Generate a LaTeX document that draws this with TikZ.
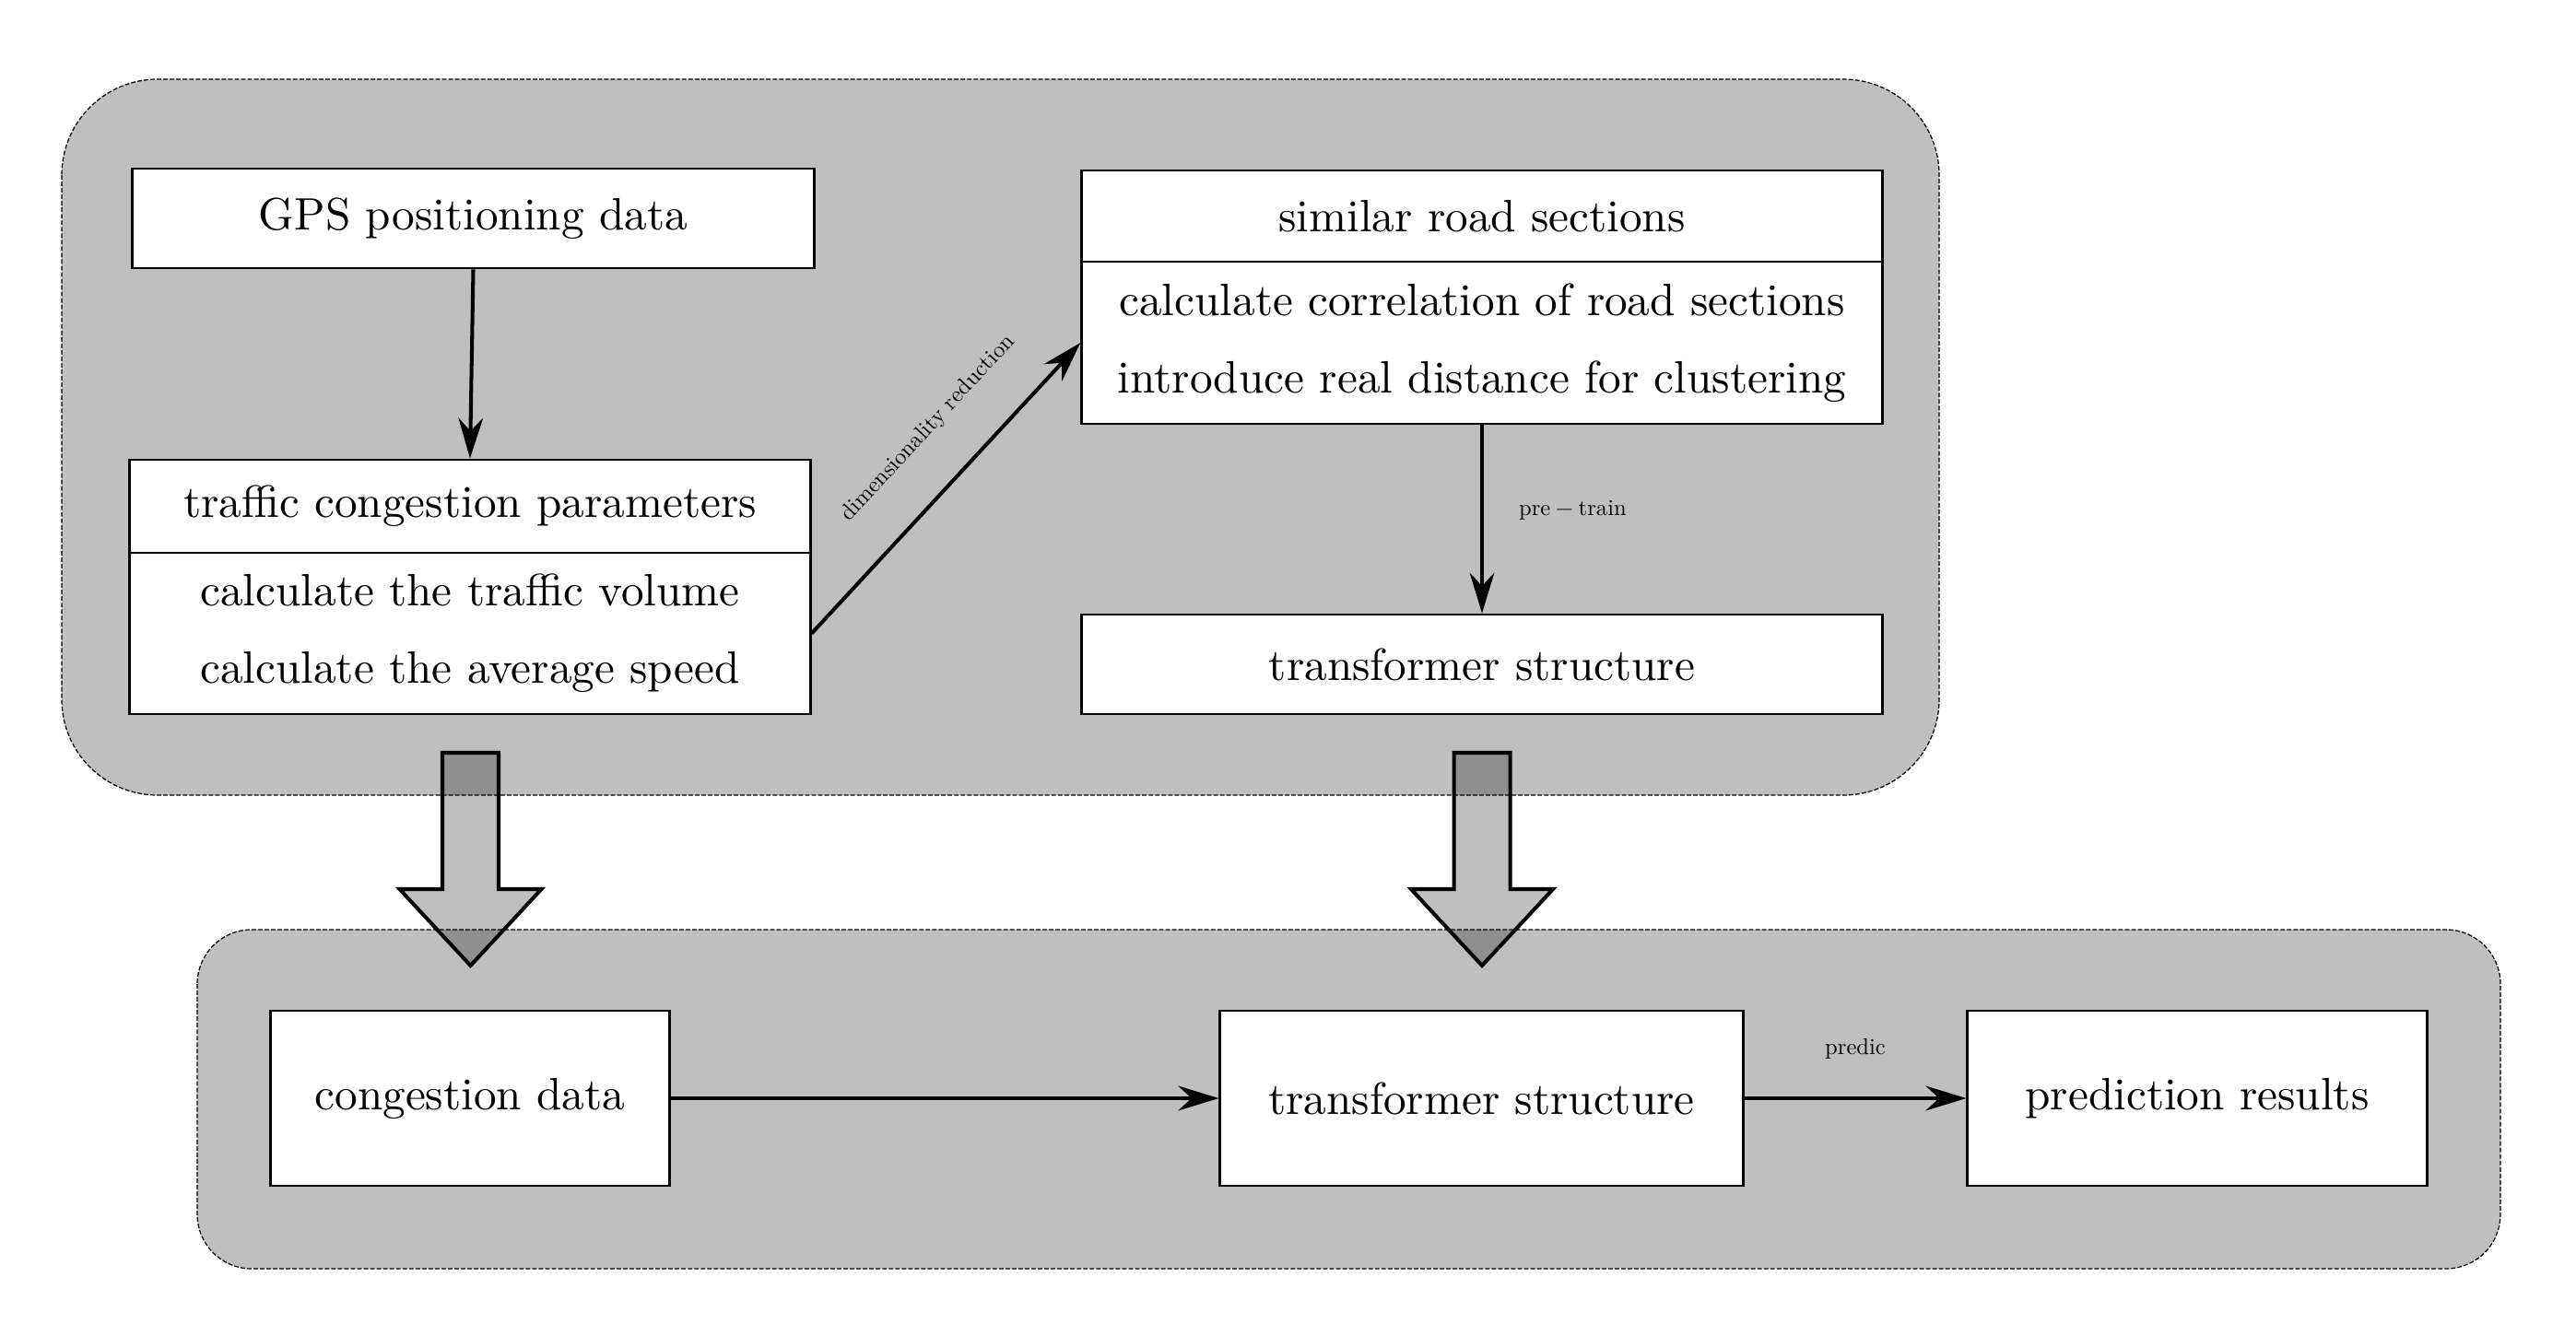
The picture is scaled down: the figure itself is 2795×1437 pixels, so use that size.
\documentclass[tikz,border=0pt]{standalone}
\usetikzlibrary{arrows.meta}
\pgfdeclarelayer{arrowlayer}
\pgfdeclarelayer{bglayer}
\pgfsetlayers{arrowlayer,bglayer,main}
\font\mainfnt="[lmroman10-regular]" at 14pt
\font\lblfnt="[lmroman10-regular]" at 7pt
\begin{document}
\begin{tikzpicture}[x=0.01cm,y=-0.01cm,
  box/.style={draw=black, thick, fill=white, inner sep=0pt, align=center,
    font={\fontsize{14}{23.8}\selectfont\mainfnt}},
  lbl/.style={font=\lblfnt, inner sep=0pt},
  conn/.style={line width=1.15pt, -{Stealth[length=12.5pt,width=7.6pt]}},
  bigarrow/.style={draw=black, line width=1.15pt, fill=black!25, line join=miter},
  panel/.style={fill=black, fill opacity=0.25, draw=black, line width=0.35pt,
    dash pattern=on 1.4pt off 0.6pt}]
\useasboundingbox (0,0) rectangle (2795,1437);

% top panel nodes
\node[box, minimum width=7.39cm, minimum height=1.08cm] (gps) at (513.5,237) {GPS positioning data};
\node[box, minimum width=7.38cm, minimum height=1.01cm] (tcphead) at (510,549.5) {traffic congestion parameters};
\node[box, minimum width=7.38cm, minimum height=1.75cm] (tcpbody) at (510,687.5) {calculate the traffic volume\\calculate the average speed};
\node[box, minimum width=8.68cm, minimum height=0.99cm] (simhead) at (1608,234.5) {similar road sections};
\node[box, minimum width=8.68cm, minimum height=1.76cm] (simbody) at (1608,372) {calculate correlation of road sections\\introduce real distance for clustering};
\node[box, minimum width=8.68cm, minimum height=1.08cm] (tftop) at (1608,721) {transformer structure};

% bottom panel nodes
\node[box, minimum width=4.32cm, minimum height=1.90cm] (cong) at (510,1192) {congestion data};
\node[box, minimum width=5.67cm, minimum height=1.90cm] (tfbot) at (1607.5,1192) {transformer structure};
\node[box, minimum width=4.98cm, minimum height=1.90cm] (pred) at (2384,1192) {prediction results};

% connectors
\draw[conn] (gps.south) -- (tcphead.north);
\draw[conn] (tcpbody.east) -- node[lbl, sloped, above=0.45cm, pos=0.58] {dimensionality reduction} (simbody.west);
\draw[conn] (simbody.south) -- node[lbl, right, xshift=0.38cm, pos=0.45] {pre\hspace{1.6pt}−\hspace{1.6pt}train} (tftop.north);
\draw[conn] (cong.east) -- (tfbot.west);
\draw[conn] (tfbot.east) -- node[lbl, above, yshift=0.41cm] {predic} (pred.west);

% panels
\begin{pgfonlayer}{bglayer}
\draw[panel, rounded corners=1.04cm] (67,86) rectangle (2104,863);
\draw[panel, rounded corners=0.59cm] (214,1009) rectangle (2713,1377);
\end{pgfonlayer}

% big arrows
\begin{pgfonlayer}{arrowlayer}
\foreach \cx in {510.5,1608} {
  \draw[bigarrow] (\cx-30.5,817) -- (\cx+30.5,817) -- (\cx+30.5,965) -- (\cx+77,965)
    -- (\cx,1048) -- (\cx-77,965) -- (\cx-30.5,965) -- cycle;
}
\end{pgfonlayer}
\end{tikzpicture}
\end{document}
